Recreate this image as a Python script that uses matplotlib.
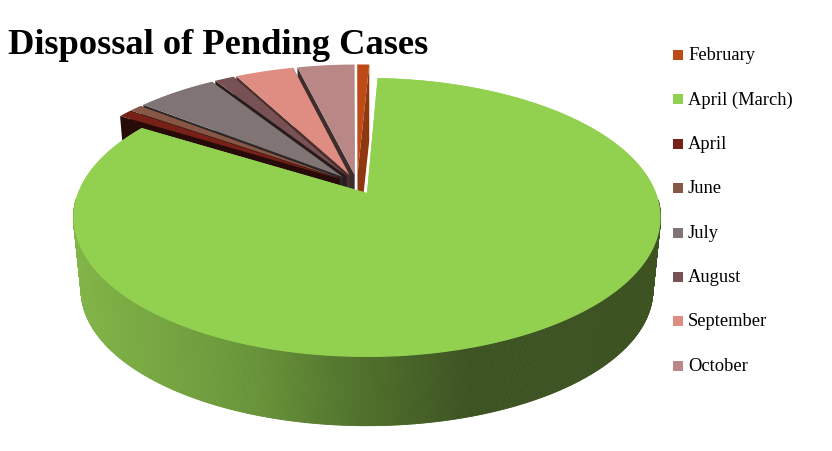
import numpy as np
import matplotlib
matplotlib.use("Agg")
import matplotlib.pyplot as plt
from matplotlib.collections import PolyCollection
from matplotlib.colors import to_rgb

labels = ["February", "April (March)", "April", "June", "July", "August", "September", "October"]
values = [0.8, 83.1, 0.9, 0.85, 5.35, 1.3, 3.9, 3.8]
colors = ["#BE4B16", "#92D050", "#772017", "#875745", "#817475", "#775154", "#DF8D83", "#B98886"]
title = "Dispossal of Pending Cases"

# fake 3d: disc coords go through a perspective map onto the pixel axes
CX, CY = 367, 193
A, B, K = 135.2, 289.0, 0.1756
EXPLODE = 0.075
START_DEG = -0.4
SHRINK = 0.974
VANISH_Y = 3000


def project(x, y):
    s = 1 - K * y
    return CX + B * x / s, CY + A * y / s


def drop(px, py):
    return CX + SHRINK * (px - CX), VANISH_Y + SHRINK * (py - VANISH_Y)


def direction(t):
    return np.sin(t), -np.cos(t)


def shade(c, f):
    return tuple(v * f for v in to_rgb(c))


def wedge_outline(t0, t1, ox, oy):
    ts = np.linspace(t0, t1, 200)
    dx, dy = direction(ts)
    xs = np.concatenate([[ox], ox + dx])
    ys = np.concatenate([[oy], oy + dy])
    return project(xs, ys)


fig = plt.figure(figsize=(8.32, 4.51), dpi=100)
ax = fig.add_axes([0, 0, 1, 1])
ax.set_xlim(0, 832)
ax.set_ylim(451, 0)
ax.axis("off")

edges = np.radians(np.cumsum([0] + values) / sum(values) * 360 + START_DEG)
mids = (edges[:-1] + edges[1:]) / 2
big = int(np.argmax(values))

# the biggest slice stays on the disc origin, the rest is placed from it
mx, my = direction(mids[big])
base_x, base_y = -EXPLODE * mx, -EXPLODE * my

slices = []
for i in range(len(values)):
    dx, dy = direction(mids[i])
    slices.append((edges[i], edges[i + 1], base_x + EXPLODE * dx, base_y + EXPLODE * dy, colors[i]))

# back to front: the small ones from the top round to the left, green last
order = [0] + list(range(len(values) - 1, big, -1)) + [big]
for i in order:
    t0, t1, ox, oy, col = slices[i]
    px, py = wedge_outline(t0, t1, ox, oy)
    if i != big:
        # cut faces and the rim going down
        for k in ([0, -1] if i == 0 else [-1, 0]):
            j = 1 if k == 0 else len(px) - 1
            bx, by = drop(np.array([px[0], px[j]]), np.array([py[0], py[j]]))
            f = 0.33 if i != 0 else (0.75 if k == -1 else 0.5)
            ax.fill([px[0], px[j], bx[1], bx[0]], [py[0], py[j], by[1], by[0]], color=shade(col, f), lw=0, zorder=2)
    ax.fill(px, py, color=col, lw=0, zorder=2)

# green side wall, colour runs with x along the rim
t0, t1, ox, oy, col = slices[big]
ts = np.linspace(t0, t1, 900)
dx, dy = direction(ts)
rx, ry = project(ox + dx, oy + dy)
bx, by = drop(rx, ry)
stop_x = [72, 130, 250, 360, 470, 662]
stop_c = ["#82B549", "#7AAB43", "#69953A", "#50712B", "#3D5322", "#3D5322"]
stop_rgb = np.array([to_rgb(c) for c in stop_c])
quads = []
quad_colors = []
for n in range(len(ts) - 1):
    if dy[n] < 0.05:
        continue
    quads.append([(rx[n], ry[n]), (rx[n + 1], ry[n + 1]), (bx[n + 1], by[n + 1]), (bx[n], by[n])])
    quad_colors.append([np.interp(rx[n], stop_x, stop_rgb[:, c]) for c in range(3)])
ax.add_collection(PolyCollection(quads, facecolors=quad_colors, edgecolors=quad_colors, linewidths=0.6, zorder=3))
px, py = wedge_outline(t0, t1, ox, oy)
ax.fill(px, py, color=col, lw=0, zorder=4)

ax.text(8, 46, title, family="Liberation Serif", fontsize=26.25, weight="bold", ha="left", va="center", color="black", zorder=5)

for i, label in enumerate(labels):
    y = 55 + 44.4 * i
    ax.add_patch(plt.Rectangle((673, y - 5), 10, 10, color=colors[i], lw=0))
    ax.text(688, y + 0.5, label, family="Liberation Serif", fontsize=13.3, ha="left", va="center", color="black")

fig.savefig("out.png", dpi=100)
